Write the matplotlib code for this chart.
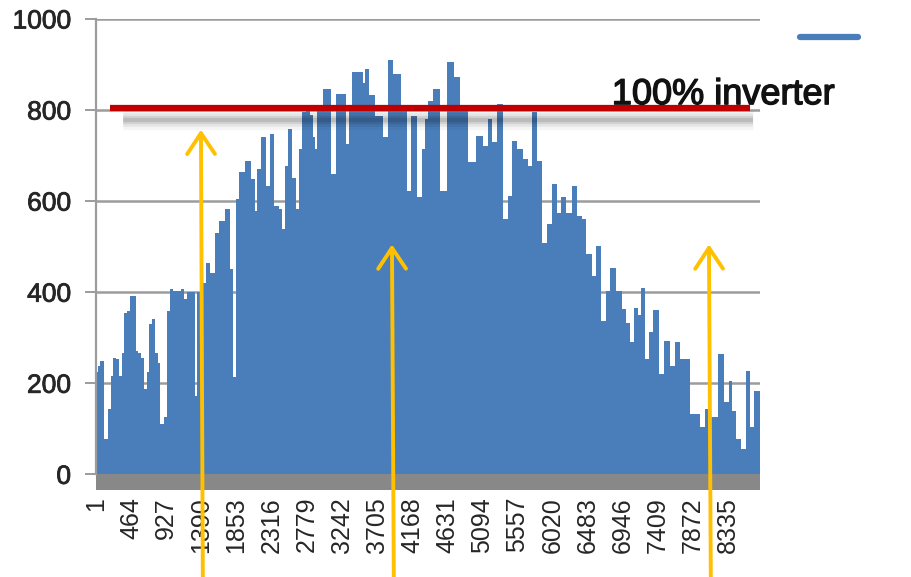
import numpy as np
import matplotlib.pyplot as plt
import matplotlib.patheffects as pe
from matplotlib.lines import Line2D

plt.rcParams['font.family'] = ['Liberation Sans', 'DejaVu Sans']

# hour of year where the envelope changes, and output there
hours = [1, 40, 79, 145, 185, 211, 251, 290, 330, 356,
         396, 435, 475, 514, 541, 580, 620, 660, 686, 725,
         752, 805, 831, 871, 923, 963, 989, 1055, 1108, 1148,
         1187, 1227, 1293, 1319, 1346, 1398, 1425, 1477, 1543, 1596,
         1662, 1741, 1794, 1833, 1860, 1913, 2018, 2084, 2110, 2150,
         2216, 2269, 2321, 2387, 2440, 2480, 2519, 2559, 2612, 2664,
         2704, 2744, 2810, 2849, 2876, 2902, 2941, 3047, 3152, 3179,
         3298, 3311, 3363, 3403, 3509, 3535, 3561, 3640, 3733, 3838,
         3878, 3970, 4076, 4142, 4181, 4287, 4313, 4326, 4353, 4419,
         4485, 4590, 4682, 4762, 4854, 4973, 5065, 5144, 5197, 5263,
         5316, 5421, 5461, 5514, 5606, 5672, 5738, 5777, 5856, 5922,
         5975, 6054, 6120, 6160, 6252, 6305, 6384, 6437, 6502, 6582,
         6621, 6700, 6753, 6819, 6911, 6964, 7017, 7070, 7123, 7176,
         7215, 7268, 7321, 7387, 7466, 7532, 7611, 7664, 7756, 7927,
         8006, 8059, 8178, 8244, 8323, 8375, 8415, 8481, 8547, 8613,
         8652, 8705, 8760]
power = [224, 238, 249, 77, 143, 216, 256, 253, 216, 267,
         355, 359, 392, 392, 271, 267, 256, 187, 224, 330,
         341, 267, 245, 110, 125, 359, 407, 403, 403, 407,
         385, 400, 400, 172, 400, 421, 421, 465, 443, 531,
         557, 583, 451, 213, 605, 663, 689, 649, 579, 671,
         740, 634, 748, 590, 583, 539, 678, 759, 650, 583,
         715, 795, 810, 790, 740, 715, 803, 847, 660, 836,
         836, 726, 803, 883, 883, 860, 891, 832, 788, 740,
         909, 880, 803, 623, 788, 608, 715, 715, 781, 821,
         847, 623, 905, 872, 810, 685, 744, 722, 781, 729,
         814, 561, 612, 733, 715, 693, 678, 795, 689, 509,
         550, 638, 575, 608, 575, 634, 568, 561, 484, 436,
         502, 337, 403, 454, 403, 363, 333, 290, 366, 350,
         410, 253, 312, 362, 220, 292, 237, 290, 253, 132,
         105, 143, 125, 264, 158, 204, 140, 77, 55, 226,
         105, 182, 182]

tick_labels = ["1", "464", "927", "1390", "1853", "2316", "2779", "3242", "3705",
               "4168", "4631", "5094", "5557", "6020", "6483", "6946", "7409",
               "7872", "8335"]
y_ticks = [0, 200, 400, 600, 800, 1000]

inverter_kw = 805
inverter_span = [185, 8626]
arrow_hours = [1385, 3905, 8087]
arrow_tips = [757, 505, 505]

blue = '#4a7ebb'
grid_gray = '#9c9c9c'

fig = plt.figure(figsize=(9.11, 5.77), dpi=100)
ax = fig.add_axes([0.10538, 0.15078, 0.72887, 0.81629])

ax.fill_between(hours, power, 0, step='mid', color=blue, lw=0, zorder=2)
ax.axhspan(-34.4, 0, color='#888888', lw=0, zorder=1)

ax.set_xlim(0.5, 8760.5)
ax.set_ylim(-34.4, 1000)
ax.set_yticks(y_ticks)
ax.set_yticklabels([str(v) for v in y_ticks])
ax.set_xticks([int(t) for t in tick_labels])
ax.set_xticklabels(tick_labels, rotation=90)
ax.yaxis.grid(True, color=grid_gray, lw=1.8)
ax.set_axisbelow(True)

for s in ['top', 'right', 'bottom']:
    ax.spines[s].set_visible(False)
ax.spines['left'].set_bounds(0, 1000)
ax.spines['left'].set_color(grid_gray)
ax.spines['left'].set_linewidth(1.6)
ax.tick_params(axis='y', length=8, width=1.4, color=grid_gray, pad=10,
               labelsize=19, labelcolor='#262626')
ax.tick_params(axis='x', length=0, pad=5, labelsize=18, labelcolor='#262626')
for lab in ax.get_yticklabels():
    lab.set_path_effects([pe.withStroke(linewidth=0.6, foreground='#262626')])

# 100% inverter limit with its soft shadow
for lw, a in [(14, 0.04), (10, 0.06), (6, 0.09), (3, 0.1)]:
    ax.plot([inverter_span[0] + 170, inverter_span[1] + 40], [inverter_kw - 27] * 2,
            color='black', alpha=a, lw=lw, solid_capstyle='butt', zorder=4)
ax.plot(inverter_span, [inverter_kw] * 2, color='#c00000', lw=4.5,
        solid_capstyle='butt', zorder=5)
ax.text(6806, inverter_kw + 8, "100% inverter", fontsize=26, color='#111111',
        va='baseline', ha='left', zorder=6,
        path_effects=[pe.withStroke(linewidth=1.0, foreground='#111111')])

for h, tip in zip(arrow_hours, arrow_tips):
    ax.annotate('', xy=(h, tip), xytext=(h + 25, -240),
                arrowprops=dict(arrowstyle='->, head_length=0.75, head_width=0.5',
                                color='#ffc000', lw=2.8, mutation_scale=20,
                                shrinkA=0, shrinkB=0),
                annotation_clip=False, zorder=7)

# legend key (its label is cut off at the image edge)
fig.add_artist(Line2D([800 / 911, 858 / 911], [1 - 37 / 577] * 2,
                      color=blue, lw=4.5, solid_capstyle='round'))

fig.savefig('out.png', dpi=100)
